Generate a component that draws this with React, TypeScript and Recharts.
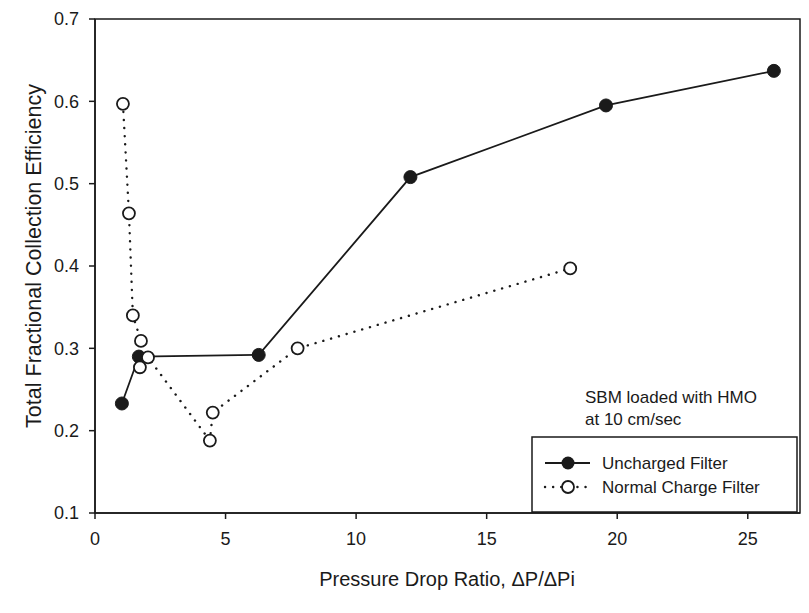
import { Line, LineChart, ReferenceArea, XAxis, YAxis } from "recharts";

const unchargedX = [1.03, 1.68, 6.27, 12.08, 19.57, 26.0];
const unchargedY = [0.233, 0.29, 0.292, 0.508, 0.595, 0.637];

const normalX = [1.07, 1.3, 1.45, 1.76, 1.72, 2.03, 4.4, 4.51, 7.76, 18.2];
const normalY = [0.597, 0.464, 0.34, 0.309, 0.277, 0.289, 0.188, 0.222, 0.3, 0.397];

const xTicks = [0, 5, 10, 15, 20, 25];
const yTicks = [0.1, 0.2, 0.3, 0.4, 0.5, 0.6, 0.7];

const uncharged = unchargedX.map((x, i) => ({ x, y: unchargedY[i] }));
const normal = normalX.map((x, i) => ({ x, y: normalY[i] }));

const INK = "#1a1a1a";
const FONT = "'Liberation Sans', Arial, sans-serif";

const FilledDot = (props: any) => {
  const { cx, cy, index } = props;
  if (cx == null || cy == null) return null;
  return <circle key={`f-${index}`} cx={cx} cy={cy} r={6.5} fill={INK} stroke={INK} strokeWidth={1} />;
};

const OpenDot = (props: any) => {
  const { cx, cy, index } = props;
  if (cx == null || cy == null) return null;
  return <circle key={`o-${index}`} cx={cx} cy={cy} r={6} fill="#fff" stroke={INK} strokeWidth={1.8} />;
};

export default function App() {
  const tick = { fill: INK, fontSize: 18, fontFamily: FONT };
  return (
    <div style={{ position: "relative", width: 800, height: 600, background: "#fff" }}>
      <LineChart width={800} height={600} margin={{ top: 11, right: 8, bottom: 20, left: 27 }}>
        <XAxis
          type="number"
          dataKey="x"
          domain={[0, 27]}
          ticks={xTicks}
          allowDataOverflow
          tick={tick}
          tickSize={6}
          tickMargin={13}
          height={75}
          stroke={INK}
          strokeWidth={1.5}
        />
        <YAxis
          type="number"
          dataKey="y"
          domain={[0.1, 0.7]}
          ticks={yTicks}
          tickFormatter={(v: number) => v.toFixed(1)}
          tick={tick}
          tickSize={6}
          tickMargin={10}
          width={60}
          stroke={INK}
          strokeWidth={1.5}
        />
        <ReferenceArea x1={0} x2={27} y1={0.1} y2={0.7} fill="none" stroke={INK} strokeWidth={1.5} fillOpacity={0} />
        <Line
          data={uncharged}
          dataKey="y"
          type="linear"
          stroke={INK}
          strokeWidth={1.8}
          dot={<FilledDot />}
          activeDot={false}
          isAnimationActive={false}
        />
        <Line
          data={normal}
          dataKey="y"
          type="linear"
          stroke={INK}
          strokeWidth={2.4}
          strokeDasharray="0.1 8"
          strokeLinecap="round"
          dot={<OpenDot />}
          activeDot={false}
          isAnimationActive={false}
        />
      </LineChart>
      <svg
        width={800}
        height={600}
        style={{ position: "absolute", left: 0, top: 0, pointerEvents: "none" }}
        fontFamily={FONT}
      >
        <text
          x={0}
          y={0}
          transform="translate(26, 248) rotate(-90)"
          textAnchor="middle"
          dominantBaseline="central"
          fontSize={21.5}
          fill={INK}
        >
          Total Fractional Collection Efficiency
        </text>
        <text x={439} y={571} textAnchor="middle" dominantBaseline="central" fontSize={20} fill={INK}>
          Pressure Drop Ratio, ΔP/ΔPi
        </text>
        <text x={577} y={389} dominantBaseline="central" fontSize={17} fill={INK}>
          SBM loaded with HMO
        </text>
        <text x={577} y={411} dominantBaseline="central" fontSize={17} fill={INK}>
          at 10 cm/sec
        </text>
        <rect x={524} y={429} width={265} height={75} fill="#fff" stroke={INK} strokeWidth={1.5} />
        <line x1={537} y1={455} x2={582} y2={455} stroke={INK} strokeWidth={1.8} />
        <circle cx={560} cy={455} r={6.5} fill={INK} />
        <line x1={537} y1={479} x2={582} y2={479} stroke={INK} strokeWidth={2.4} strokeDasharray="0.1 8" strokeLinecap="round" />
        <circle cx={560} cy={479} r={6} fill="#fff" stroke={INK} strokeWidth={1.8} />
        <text x={594} y={455} dominantBaseline="central" fontSize={17} fill={INK}>
          Uncharged Filter
        </text>
        <text x={594} y={479} dominantBaseline="central" fontSize={17} fill={INK}>
          Normal Charge Filter
        </text>
      </svg>
    </div>
  );
}
